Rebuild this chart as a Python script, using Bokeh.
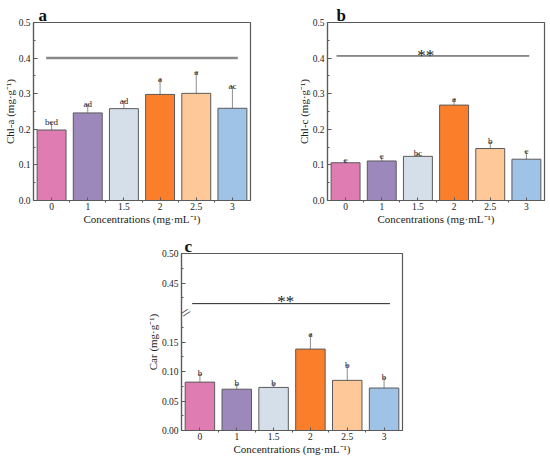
from bokeh.plotting import figure
from bokeh.models import (ColumnDataSource, Whisker, TeeHead, Label, FixedTicker, Range1d,
                          Spacer, CustomJSTickFormatter, NumeralTickFormatter)
from bokeh.layouts import column, row
from bokeh.embed import file_html
from bokeh.resources import INLINE
from bokeh.core.properties import value

# ---------------- data ----------------
concentrations = ["0", "1", "1.5", "2", "2.5", "3"]
bar_colors = ["#DF7DB2", "#9C88BB", "#D5DFEA", "#FB7F2B", "#FEC898", "#9EC3E7"]

chla_mean = [0.198, 0.246, 0.258, 0.298, 0.301, 0.259]
chla_sd = [0.021, 0.022, 0.020, 0.040, 0.058, 0.060]
chla_letters = ["bcd", "ad", "ad", "a", "a", "ac"]

chlc_mean = [0.106, 0.111, 0.124, 0.268, 0.146, 0.116]
chlc_sd = [0.006, 0.012, 0.006, 0.015, 0.017, 0.021]
chlc_letters = ["c", "c", "bc", "a", "b", "c"]

car_mean = [0.082, 0.070, 0.073, 0.138, 0.085, 0.072]
car_sd = [0.013, 0.008, 0.006, 0.024, 0.025, 0.017]
car_letters = ["b", "b", "b", "a", "b", "b"]

# significance bars (x in category units, y in data units)
chla_sig_x = [0.35, 5.65]
chla_sig_y = [0.400, 0.400]
chlc_sig_x = [0.25, 5.58]
chlc_sig_y = [0.406, 0.406]
chlc_star_x = [2.72]
car_sig_x = [0.29, 5.66]
car_sig_y = [0.415, 0.415]
car_star_x = [2.83]
star_text = ["**"]

# axes
ab_y_ticks = [0.0, 0.1, 0.2, 0.3, 0.4, 0.5]
ab_y_minor = [0.05, 0.15, 0.25, 0.35, 0.45]
car_y_ticks = [0.0, 0.05, 0.10, 0.15, 0.45, 0.50]
car_y_minor = [0.025, 0.075, 0.125, 0.175, 0.425, 0.475]
car_break_low = 0.20   # lower segment ends here
car_break_high = 0.40  # upper segment starts here
car_gap = car_break_high - car_break_low

FONT = "Liberation Serif"
EDGE = "#5a5a5a"


def car_disp(v):
    return v if v <= car_break_low else v - car_gap


def ident(v):
    return v


def make_panel(means, sds, letters, tag, tag_offset, ylabel, width, height, bl, br, bt, bb,
               y_end, y_ticks, y_minor, formatter, to_disp):
    n = len(concentrations)
    p = figure(width=width, height=height, x_range=Range1d(0, n),
               y_range=Range1d(0, y_end), output_backend="svg", toolbar_location=None,
               min_border_left=bl, min_border_right=br, min_border_top=bt,
               min_border_bottom=bb, title=tag)
    p.title.text_font = FONT
    p.title.text_font_size = "17px"
    p.title.text_font_style = "bold"
    p.title.text_color = "#111111"
    p.title.align = "left"
    p.title.offset = tag_offset
    p.title.standoff = -4
    p.xgrid.visible = False
    p.ygrid.visible = False
    p.outline_line_color = EDGE
    p.outline_line_width = 1.2
    p.background_fill_color = "white"

    xs = [i + 0.5 for i in range(n)]
    src = ColumnDataSource(dict(
        x=xs,
        top=[to_disp(m) for m in means],
        upper=[to_disp(m + s) for m, s in zip(means, sds)],
        lower=[to_disp(m - s) for m, s in zip(means, sds)],
        color=bar_colors,
        letter=letters,
    ))
    p.vbar(x="x", top="top", bottom=0, width=0.8, fill_color="color",
           line_color=EDGE, line_width=1, source=src)
    p.add_layout(Whisker(base="x", upper="upper", lower="lower", source=src,
                         line_color="#707070", line_width=0.8,
                         upper_head=TeeHead(size=4, line_color="#707070", line_width=0.8),
                         lower_head=TeeHead(size=4, line_color="#707070", line_width=0.8)))
    p.text(x="x", y="upper", text="letter", source=src, text_align="center",
           text_baseline="alphabetic", y_offset=-1, text_font=value(FONT),
           text_font_size="9px", text_color="#222222")

    # x axis
    xax = p.xaxis[0]
    xax.ticker = FixedTicker(ticks=xs, minor_ticks=list(range(1, n)))
    xax.major_label_overrides = {x: c for x, c in zip(xs, concentrations)}
    xax.axis_label = "Concentrations (mg·mL⁻¹)"
    xax.major_tick_in = 3
    xax.major_tick_out = 0
    xax.minor_tick_in = 0
    xax.minor_tick_out = 2
    xax.major_label_standoff = 0
    xax.axis_label_standoff = 0

    # y axis
    yax = p.yaxis[0]
    yax.ticker = FixedTicker(ticks=[to_disp(t) for t in y_ticks],
                             minor_ticks=[to_disp(t) for t in y_minor])
    yax.formatter = formatter
    yax.axis_label = ylabel
    yax.major_tick_in, yax.major_tick_out = 4, 0
    yax.minor_tick_in, yax.minor_tick_out = 2, 0
    yax.major_label_standoff = 3
    yax.axis_label_standoff = 0

    for ax in (xax, yax):
        ax.axis_line_color = EDGE
        ax.axis_line_width = 1.2
        ax.major_tick_line_color = EDGE
        ax.minor_tick_line_color = EDGE
        ax.major_label_text_font = FONT
        ax.major_label_text_font_size = "9.5px"
        ax.major_label_text_color = "#222222"
        ax.axis_label_text_font = FONT
        ax.axis_label_text_font_style = "normal"
        ax.axis_label_text_font_size = "11px"
        ax.axis_label_text_color = "#222222"
    return p


ab_fmt = NumeralTickFormatter(format="0.0")
car_fmt = CustomJSTickFormatter(args=dict(lo=car_break_low, gap=car_gap),
                                code="return (tick > lo + 1e-9 ? tick + gap : tick).toFixed(2);")

# top row: 231 px tall, frames at y 22..200
pa = make_panel(chla_mean, chla_sd, chla_letters, "a", 5, "Chl-a (mg·g⁻¹)",
                294, 231, 30, 44, 22, 31, 0.5, ab_y_ticks, ab_y_minor, ab_fmt, ident)
pa.line(chla_sig_x, chla_sig_y, line_color="#8a8a8a", line_width=2.5)

pb = make_panel(chlc_mean, chlc_sd, chlc_letters, "b", 9, "Chl-c (mg·g⁻¹)",
                254, 231, 30, 4, 22, 31, 0.5, ab_y_ticks, ab_y_minor, ab_fmt, ident)
pb.line(chlc_sig_x, chlc_sig_y, line_color="#222222", line_width=1)
pb.text(x=chlc_star_x, y=[chlc_sig_y[0]], text=star_text, text_align="center",
        text_baseline="alphabetic", y_offset=0, text_font=value(FONT),
        text_font_size="17px", text_color="#222222")

# bottom row: frame at x 181..402, y 253..430
pc = make_panel(car_mean, car_sd, car_letters, "c", 3, "Car (mg·g⁻¹)",
                271, 226, 40, 10, 22, 27, car_disp(0.5), car_y_ticks, car_y_minor,
                car_fmt, car_disp)
pc.line(car_sig_x, [car_disp(v) for v in car_sig_y], line_color="#222222", line_width=1)
pc.text(x=car_star_x, y=[car_disp(car_sig_y[0])], text=star_text, text_align="center",
        text_baseline="alphabetic", y_offset=-2, text_font=value(FONT),
        text_font_size="17px", text_color="#222222")
# axis break mark (kept just inside the frame)
pc.add_layout(Label(x=0, y=car_break_low, x_offset=4, text="//", angle=-0.7,
                    text_align="center", text_baseline="middle", text_font="DejaVu Sans",
                    text_font_size="10px", text_color="#444444"))

layout = column(row(pa, pb), row(Spacer(width=141, height=226), pc))
open("out.html", "w").write(file_html(layout, INLINE))
